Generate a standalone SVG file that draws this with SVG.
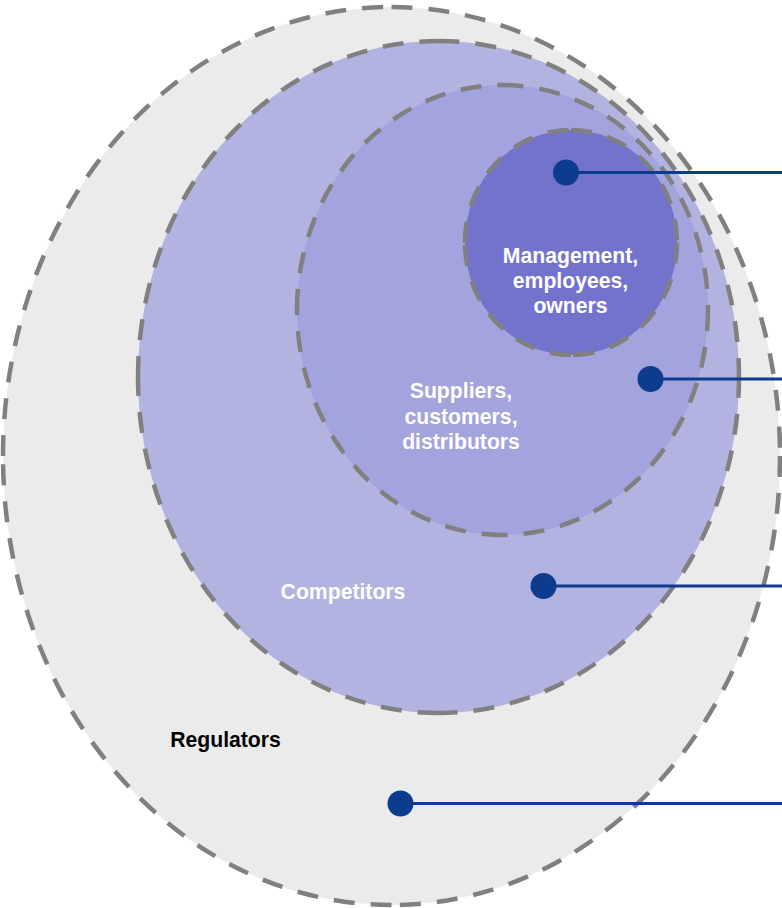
<svg xmlns="http://www.w3.org/2000/svg" width="782" height="908" viewBox="0 0 782 908">
  <style>
    .ring { stroke: none; }
    .dash { fill: none; stroke: #808080; stroke-width: 4.5; stroke-dasharray: 21 16; }
    .lbl { font-family: "Liberation Sans", Arial, sans-serif; font-weight: bold; font-size: 21.2px; text-anchor: middle; }
    .white { fill: #ffffff; }
    .black { fill: #000000; }
    .dot { fill: #0d3c8e; }
    .lead { stroke: #0d3c8e; stroke-width: 3; fill: none; }
  </style>
  <rect width="782" height="908" fill="#ffffff"/>

  <g id="regulators">
    <ellipse class="ring" cx="391.5" cy="456" rx="388.5" ry="449" fill="#ebebeb"/>
    <path class="dash" d="M391.5,7 A388.5,449 0 0 1 780,456 M780,456 A388.5,449 0 0 1 391.5,905 M391.5,905 A388.5,449 0 0 1 3,456 M3,456 A388.5,449 0 0 1 391.5,7"/>
    <text class="lbl black" x="225.5" y="747">Regulators</text>
  </g>

  <g id="competitors">
    <ellipse class="ring" cx="438.5" cy="377" rx="300.5" ry="336" fill="#b3b3e1"/>
    <path class="dash" d="M438.5,41 A300.5,336 0 0 1 739,377 M739,377 A300.5,336 0 0 1 438.5,713 M438.5,713 A300.5,336 0 0 1 138,377 M138,377 A300.5,336 0 0 1 438.5,41"/>
    <text class="lbl white" x="343" y="599">Competitors</text>
  </g>

  <g id="suppliers">
    <ellipse class="ring" cx="502.5" cy="310" rx="205.5" ry="225" fill="#a3a3dd"/>
    <path class="dash" d="M502.5,85 A205.5,225 0 0 1 708,310 M708,310 A205.5,225 0 0 1 502.5,535 M502.5,535 A205.5,225 0 0 1 297,310 M297,310 A205.5,225 0 0 1 502.5,85"/>
    <text class="lbl white" x="461" y="398">Suppliers,</text>
    <text class="lbl white" x="461" y="423.5">customers,</text>
    <text class="lbl white" x="461" y="449">distributors</text>
  </g>

  <g id="management">
    <ellipse class="ring" cx="571" cy="242.5" rx="106" ry="112.5" fill="#7373cd"/>
    <path class="dash" d="M571,130 A106,112.5 0 0 1 677,242.5 M677,242.5 A106,112.5 0 0 1 571,355 M571,355 A106,112.5 0 0 1 465,242.5 M465,242.5 A106,112.5 0 0 1 571,130"/>
    <text class="lbl white" x="570.5" y="263">Management,</text>
    <text class="lbl white" x="570.5" y="288">employees,</text>
    <text class="lbl white" x="570.5" y="313">owners</text>
  </g>

  <g id="connectors">
    <line class="lead" x1="566" y1="172.5" x2="782" y2="172.5"/>
    <circle class="dot" cx="566" cy="172.5" r="13"/>
    <line class="lead" x1="650.5" y1="379" x2="782" y2="379"/>
    <circle class="dot" cx="650.5" cy="379" r="13"/>
    <line class="lead" x1="543.5" y1="586" x2="782" y2="586"/>
    <circle class="dot" cx="543.5" cy="586" r="13"/>
    <line class="lead" x1="400.5" y1="803.5" x2="782" y2="803.5"/>
    <circle class="dot" cx="400.5" cy="803.5" r="13"/>
  </g>
</svg>
